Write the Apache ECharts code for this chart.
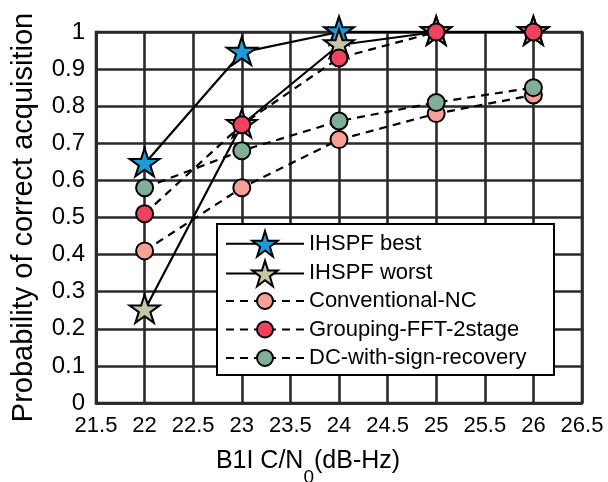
<!DOCTYPE html>
<html>
<head>
<meta charset="utf-8">
<script src="https://cdn.jsdelivr.net/npm/echarts@6/dist/echarts.min.js"></script>
<style>
  html, body { margin: 0; padding: 0; background: #fff; }
  #chart { width: 608px; height: 482px; }
</style>
</head>
<body>
<div id="chart"></div>
<script>
const cnValues = [22, 23, 24, 25, 26];
const xTicks = [21.5, 22, 22.5, 23, 23.5, 24, 24.5, 25, 25.5, 26, 26.5];
const yTicks = [0, 0.1, 0.2, 0.3, 0.4, 0.5, 0.6, 0.7, 0.8, 0.9, 1];

const ihspfBest = [0.645, 0.945, 1.0, 1.0, 1.0];
const ihspfWorst = [0.25, 0.75, 0.965, 1.0, 1.0];
const conventionalNC = [0.41, 0.58, 0.71, 0.78, 0.83];
const groupingFFT = [0.51, 0.75, 0.93, 1.0, 1.0];
const dcSignRecovery = [0.58, 0.68, 0.76, 0.81, 0.85];

const FONT = 'Liberation Sans, Arial, sans-serif';
const GRID_COLOR = '#2a2a2a';

// five pointed star, like the matlab pentagram marker
const STAR = 'path://M0,-1L0.2245,-0.309L0.9511,-0.309L0.3633,0.118L0.5878,0.809L0,0.382L-0.5878,0.809L-0.3633,0.118L-0.9511,-0.309L-0.2245,-0.309Z';

function pairs(ys) {
    return cnValues.map((x, i) => [x, ys[i]]);
}

function starSeries(name, data, color) {
    return {
        name: name,
        type: 'line',
        data: pairs(data),
        clip: false,
        symbol: STAR,
        symbolSize: [30, 28],
        symbolOffset: [0, -1.4],
        symbolKeepAspect: false,
        lineStyle: { color: '#000', width: 2.2, type: 'solid' },
        itemStyle: { color: color, borderColor: '#000', borderWidth: 2 }
    };
}

function circleSeries(name, data, color) {
    return {
        name: name,
        type: 'line',
        data: pairs(data),
        clip: false,
        symbol: 'circle',
        symbolSize: 17,
        lineStyle: { color: '#000', width: 2.2, type: [8, 6] },
        itemStyle: { color: color, borderColor: '#000', borderWidth: 2 }
    };
}

const chart = echarts.init(document.getElementById('chart'));
const option = {
    animation: false,
    grid: {
        left: 96, right: 26, top: 32, bottom: 79,
        outerBoundsMode: 'none',
        containLabel: false,
        show: true,
        borderColor: GRID_COLOR,
        borderWidth: 2.6,
        backgroundColor: 'transparent'
    },
    xAxis: {
        type: 'value',
        min: xTicks[0],
        max: xTicks[xTicks.length - 1],
        interval: 0.5,
        name: '{a|B1I C/N}{s|0}{a|(dB-Hz)}',
        nameLocation: 'middle',
        nameGap: 33,
        nameTextStyle: {
            padding: [0, 62, 0, 0],
            rich: {
                a: { fontSize: 25, fontFamily: FONT, color: '#000' },
                s: { fontSize: 19, fontFamily: FONT, color: '#000', padding: [32, 0, 0, 0] }
            }
        },
        axisLine: { show: true, lineStyle: { color: GRID_COLOR, width: 2.6 } },
        axisTick: { show: false },
        axisLabel: { fontSize: 22, fontFamily: FONT, color: '#000', margin: 12 },
        splitLine: { show: true, lineStyle: { color: GRID_COLOR, width: 2.6 } }
    },
    yAxis: {
        type: 'value',
        min: yTicks[0],
        max: yTicks[yTicks.length - 1],
        interval: 0.1,
        name: 'Probability of correct acquisition',
        nameLocation: 'middle',
        nameGap: 58,
        nameTextStyle: { fontSize: 29, fontFamily: FONT, color: '#000' },
        axisLine: { show: true, lineStyle: { color: GRID_COLOR, width: 2.6 } },
        axisTick: { show: false },
        axisLabel: { fontSize: 24, fontFamily: FONT, color: '#000', margin: 11 },
        splitLine: { show: true, lineStyle: { color: GRID_COLOR, width: 2.6 } }
    },
    graphic: [{
        type: 'rect',
        z: 3,
        shape: { x: 217, y: 224, width: 337, height: 151 },
        style: { fill: '#fff', stroke: '#000', lineWidth: 2 }
    }],
    legend: [
        {
            data: ['IHSPF best', 'IHSPF worst'],
            orient: 'vertical',
            left: 225, top: 230,
            padding: 0,
            itemWidth: 78, itemHeight: 32, itemGap: 2,
            selectedMode: false,
            textStyle: { fontSize: 22, fontFamily: FONT, color: '#000' }
        },
        {
            data: ['Conventional-NC', 'Grouping-FFT-2stage', 'DC-with-sign-recovery'],
            orient: 'vertical',
            left: 225, top: 290,
            padding: 0,
            itemWidth: 78, itemHeight: 20, itemGap: 6.5,
            selectedMode: false,
            textStyle: { fontSize: 22, fontFamily: FONT, color: '#000' }
        }
    ],
    series: [
        starSeries('IHSPF best', ihspfBest, '#1b9bd7'),
        starSeries('IHSPF worst', ihspfWorst, '#c9c6a6'),
        circleSeries('Conventional-NC', conventionalNC, '#f6a096'),
        circleSeries('Grouping-FFT-2stage', groupingFFT, '#f0425e'),
        circleSeries('DC-with-sign-recovery', dcSignRecovery, '#80ae96')
    ]
};
chart.setOption(option);
</script>
</body>
</html>
